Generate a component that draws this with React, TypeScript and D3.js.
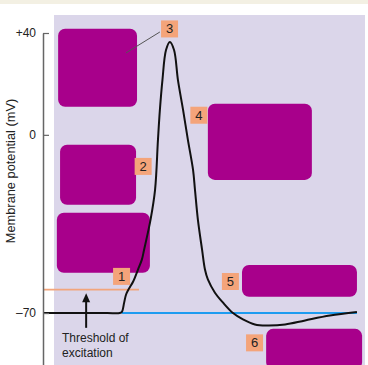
import React, { Component } from 'react';
import * as d3 from 'd3';

// time (arbitrary units, 0-10 across the panel) and membrane potential (mV)
const times = [0, 1.0, 2.0, 2.38, 2.45, 2.52, 2.58, 2.67, 2.8, 2.95, 3.07, 3.14, 3.34, 3.48, 3.57, 3.63, 3.71, 3.82, 3.94, 4.07, 4.19, 4.35, 4.5, 4.66, 4.72, 4.81, 4.94, 5.03, 5.12, 5.34, 5.59, 5.9, 6.21, 6.58, 6.96, 7.52, 8.14, 8.91, 9.75];
const potentials = [-70, -70, -70, -70, -69.5, -65.9, -62.7, -60.4, -57.6, -52.9, -49, -45.1, -33.3, -21.6, -2, 9.8, 21.6, 33.3, 36.5, 33.3, 21.6, 9.8, -2, -13.8, -21.6, -33.3, -45.1, -52.9, -56.8, -62, -65.9, -70, -72.5, -74.5, -74.9, -74.5, -72.9, -71, -69.6];

const tickValues = [40, 0, -70];
const tickLabels = ['+40', '0', '\u201370'];
const yTitle = 'Membrane potential (mV)';

const restingMv = -70;
const restingSpan = [2.45, 9.75];
const thresholdMv = -60.8;
const thresholdSpan = [0, 2.98];
const arrowT = 1.34;
const arrowMv = [-62.2, -75.8];
const noteLines = ['Threshold of', 'excitation'];

// numbered markers: label, time, mV (box centres)
const markerLabels = ['1', '2', '3', '4', '5', '6'];
const markerT = [2.44, 3.11, 3.93, 4.84, 5.82, 6.57];
const markerMv = [-55.6, -12.4, 41.6, 7.7, -57.6, -81.7];
const leader = [[3.63, 40.4], [2.58, 32.2]];

// scribbled-over boxes: t0, t1, mv top, mv bottom
const blobT0 = [0.47, 0.53, 0.43, 5.12, 6.18, 6.93];
const blobT1 = [2.92, 2.89, 3.32, 8.35, 9.75, 9.91];
const blobTop = [41.7, -3.9, -30.6, 12.2, -51.1, -76.2];
const blobBottom = [11.0, -27.5, -54.2, -17.7, -63.6, -92];

class App extends Component {
  myRef = React.createRef<SVGSVGElement>();

  componentDidMount() {
    document.body.style.margin = '0';
    const W = 368;
    const H = 365;
    const font = '"Liberation Sans", Arial, sans-serif';

    const svg = d3.select(this.myRef.current);
    svg.selectAll('*').remove();

    // frame / backgrounds
    svg.append('rect').attr('width', W).attr('height', H).attr('fill', '#ffffff');
    svg.append('rect').attr('width', W).attr('height', 4).attr('fill', '#f3f0e3');
    svg.append('rect')
      .attr('x', 54).attr('y', 15)
      .attr('width', 311).attr('height', H - 15)
      .attr('fill', '#dbd6ea');

    const x = d3.scaleLinear().domain([0, 10]).range([43, 365]);
    const y = d3.scaleLinear().domain([-90.4, 40]).range([365, 33]);

    // blobs
    blobT0.forEach((t0, i) => {
      svg.append('rect')
        .attr('x', x(t0))
        .attr('y', y(blobTop[i]))
        .attr('width', x(blobT1[i]) - x(t0))
        .attr('height', y(blobBottom[i]) - y(blobTop[i]))
        .attr('rx', 7)
        .attr('fill', '#a8008b');
    });

    // threshold line
    svg.append('line')
      .attr('x1', x(thresholdSpan[0])).attr('x2', x(thresholdSpan[1]))
      .attr('y1', y(thresholdMv)).attr('y2', y(thresholdMv))
      .attr('stroke', '#f2a57c').attr('stroke-width', 1.6);

    // resting line
    svg.append('line')
      .attr('x1', x(restingSpan[0])).attr('x2', x(restingSpan[1]))
      .attr('y1', y(restingMv)).attr('y2', y(restingMv))
      .attr('stroke', '#1e9cf0').attr('stroke-width', 2);

    // action potential
    const data = times.map((t, i) => [t, potentials[i]] as [number, number]);
    const line = d3.line<[number, number]>()
      .x(d => x(d[0]))
      .y(d => y(d[1]))
      .curve(d3.curveCatmullRom.alpha(0.5));
    svg.append('path')
      .attr('d', line(data))
      .attr('fill', 'none')
      .attr('stroke', '#111')
      .attr('stroke-width', 2);

    // axis
    const axis = d3.axisLeft(y)
      .tickValues(tickValues)
      .tickFormat((d, i) => tickLabels[i])
      .tickSizeInner(-6)
      .tickSizeOuter(0)
      .tickPadding(7);
    const g = svg.append('g').attr('transform', 'translate(43,0)').call(axis);
    g.select('.domain').attr('stroke', '#666').attr('stroke-width', 1.5);
    g.selectAll('line').attr('stroke', '#666').attr('stroke-width', 1.2);
    g.selectAll('text')
      .attr('font-family', font)
      .attr('font-size', 12)
      .attr('fill', '#222');

    svg.append('text')
      .attr('transform', 'translate(15,171) rotate(-90)')
      .attr('text-anchor', 'middle')
      .attr('font-family', font)
      .attr('font-size', 12.8)
      .attr('fill', '#222')
      .text(yTitle);

    // threshold arrow
    const ax = x(arrowT);
    svg.append('line')
      .attr('x1', ax).attr('x2', ax)
      .attr('y1', y(arrowMv[0]) + 6).attr('y2', y(arrowMv[1]))
      .attr('stroke', '#111').attr('stroke-width', 2);
    svg.append('path')
      .attr('d', `M${ax},${y(arrowMv[0])} L${ax - 4},${y(arrowMv[0]) + 9} L${ax + 4},${y(arrowMv[0]) + 9} Z`)
      .attr('fill', '#111');
    noteLines.forEach((s, i) => {
      svg.append('text')
        .attr('x', 62).attr('y', 342 + i * 15)
        .attr('font-family', font)
        .attr('font-size', 12)
        .attr('fill', '#222')
        .text(s);
    });

    // leader for marker 3
    svg.append('line')
      .attr('x1', x(leader[0][0])).attr('y1', y(leader[0][1]))
      .attr('x2', x(leader[1][0])).attr('y2', y(leader[1][1]))
      .attr('stroke', '#555').attr('stroke-width', 1);

    // numbered markers
    markerLabels.forEach((lab, i) => {
      const cx = x(markerT[i]);
      const cy = y(markerMv[i]);
      svg.append('rect')
        .attr('x', cx - 8.5).attr('y', cy - 8.5)
        .attr('width', 17).attr('height', 17)
        .attr('fill', '#f4a47a');
      svg.append('text')
        .attr('x', cx).attr('y', cy + 4.5)
        .attr('text-anchor', 'middle')
        .attr('font-family', font)
        .attr('font-size', 13)
        .attr('fill', '#222')
        .text(lab);
    });
  }

  render() {
    return (
      <svg ref={this.myRef} width={368} height={365}
        style={{ position: 'absolute', left: 0, top: 0, display: 'block' }} />
    );
  }
}

export default App;
